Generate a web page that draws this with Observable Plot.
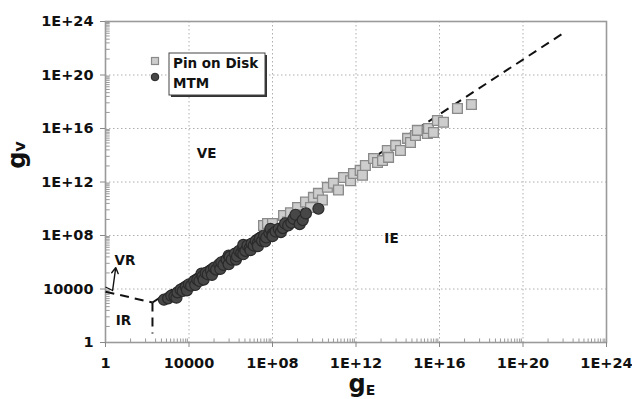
<!DOCTYPE html>
<html><head><meta charset="utf-8">
<script src="https://cdn.jsdelivr.net/npm/d3@7"></script>
<script src="https://cdn.jsdelivr.net/npm/@observablehq/plot@0.6"></script>
<style>
body{margin:0;background:#fff;}
#chart{position:relative;width:632px;height:399px;}
</style></head><body><div id="chart"></div>
<script>
// ---- data (log10 of gE and gV) ----
const seriesNames = ["Pin on Disk", "MTM"];
const pinLogGE = [7.57,7.76,8.0,8.14,8.53,8.72,8.86,9.2,9.34,9.58,9.82,9.96,10.2,10.39,10.63,10.92,11.16,11.4,11.74,11.88,12.2,12.31,12.45,12.84,13.03,13.27,13.5,13.56,13.9,14.13,14.47,14.61,14.85,14.94,15.42,15.47,15.71,15.9,16.19,16.86,17.53];
const pinLogGV = [8.75,8.9,8.9,8.45,9.5,9.0,9.7,10.1,9.55,10.5,10.1,10.85,11.15,10.65,11.6,11.9,11.4,12.34,12.1,12.64,12.87,12.5,13.24,13.76,13.46,13.6,14.36,13.84,14.74,14.36,15.26,14.96,15.48,15.86,15.63,16.0,15.7,16.6,16.46,17.5,17.8];
const mtmLogGE = [2.8,3.0,3.15,3.3,3.4,3.45,3.6,3.7,3.85,3.9,4.0,4.1,4.25,4.3,4.4,4.5,4.6,4.65,4.7,4.8,4.9,5.05,5.1,5.2,5.3,5.45,5.5,5.55,5.65,5.8,5.9,5.9,5.95,6.05,6.2,6.25,6.3,6.4,6.5,6.6,6.6,6.6,6.7,6.8,6.9,6.95,7.0,7.1,7.2,7.3,7.3,7.4,7.5,7.6,7.65,7.7,7.85,7.9,8.0,8.0,8.15,8.3,8.4,8.5,8.6,8.75,8.9,9.0,9.1,9.3,9.45,9.6,10.2];
const mtmLogGV = [3.2,3.3,3.5,3.45,3.35,3.75,3.95,3.85,4.15,3.9,4.35,4.25,4.6,4.3,4.7,4.6,5.15,4.95,4.7,5.2,5.1,5.4,5.05,5.6,5.45,5.85,5.5,6.0,5.8,6.2,5.85,6.5,6.4,6.2,6.65,6.2,6.45,6.85,6.7,7.05,6.6,7.3,6.85,7.25,7.05,6.9,7.4,7.25,7.6,7.45,7.2,7.8,7.6,8.0,7.55,7.85,8.2,8.5,8.1,7.95,8.3,8.5,8.25,8.55,8.9,8.75,8.95,9.25,9.55,8.85,9.15,9.65,10.0];
// dashed regime boundaries: segment start / end (log10)
const boundaryFromGE = [0, 2.25, 2.25];
const boundaryFromGV = [3.8, 2.99, 2.99];
const boundaryToGE = [2.25, 2.25, 21.9];
const boundaryToGV = [2.99, 0.67, 23.1];
// region labels
const regionLabels = ["VE", "IE", "VR", "IR"];
const regionLogGE = [4.84, 13.7, 0.93, 0.86];
const regionLogGV = [14.1, 7.8, 6.15, 1.65];
// axis ticks (exponents)
const majorExp = [0, 4, 8, 12, 16, 20, 24];
const minorOffsets = [1.2, 1.92, 2.4, 2.68, 2.92, 3.12, 3.28, 3.44, 3.6, 3.72, 3.84, 3.92];

const minorExp = [];
for (let k = 0; k < 24; k += 4) for (const o of minorOffsets) minorExp.push(k + o);

const pin = pinLogGE.map((x, i) => ({x: 10 ** x, y: 10 ** pinLogGV[i]}));
const mtm = mtmLogGE.map((x, i) => ({x: 10 ** x, y: 10 ** mtmLogGV[i]}));
const bounds = boundaryFromGE.map((x, i) => ({x1: 10 ** x, y1: 10 ** boundaryFromGV[i], x2: 10 ** boundaryToGE[i], y2: 10 ** boundaryToGV[i]}));
const regions = regionLabels.map((t, i) => ({t, x: 10 ** regionLogGE[i], y: 10 ** regionLogGV[i]}));
const majors = majorExp.map(e => 10 ** e);
const fmt = d => {
  const e = Math.round(Math.log10(d));
  if (e === 0) return "1";
  if (e === 4) return "10000";
  return "1E+" + String(e).padStart(2, "0");
};
const FONT = "'DejaVu Sans', Verdana, sans-serif";

const chart = Plot.plot({
  width: 632, height: 399,
  marginLeft: 105, marginRight: 26, marginTop: 21, marginBottom: 57,
  style: {fontFamily: FONT, fontSize: "14.5px", fontWeight: "bold", color: "#111", background: "#fff"},
  x: {type: "log", domain: [1, 1e24], ticks: majors, tickFormat: fmt, label: null},
  y: {type: "log", domain: [1, 1e24], ticks: majors, tickFormat: fmt, label: null},
  marks: [
    Plot.gridX(majors, {stroke: "#b0b0b0", strokeOpacity: 1, strokeDasharray: "1.5,2.5"}),
    Plot.gridY(majors, {stroke: "#b0b0b0", strokeOpacity: 1, strokeDasharray: "1.5,2.5"}),
    Plot.link(minorExp, {x1: d => 10 ** d, x2: d => 10 ** d, y1: () => 1, y2: () => 10 ** 0.3, stroke: "#999", strokeWidth: 1}),
    Plot.link(minorExp, {y1: d => 10 ** d, y2: d => 10 ** d, x1: () => 1, x2: () => 10 ** 0.2, stroke: "#999", strokeWidth: 1}),
    Plot.frame({stroke: "#9a9a9a", strokeWidth: 1.6}),
    Plot.axisX({ticks: majors, tickFormat: fmt, tickSize: 5, tickPadding: 10, stroke: "#888", fontSize: 14.5, fontWeight: "bold", fill: "#111", label: null}),
    Plot.axisY({ticks: majors, tickFormat: fmt, tickSize: 5, tickPadding: 7, stroke: "#888", fontSize: 14.5, fontWeight: "bold", fill: "#111", label: null}),
    Plot.link(bounds, {x1: "x1", y1: "y1", x2: "x2", y2: "y2", stroke: "#111", strokeWidth: 2, strokeDasharray: "9,6"}),
    Plot.dot(pin, {x: "x", y: "y", symbol: "square", r: 5.5, fill: "#cdcdcd", stroke: "#8a8a8a", strokeWidth: 1.3}),
    Plot.dot(mtm, {x: "x", y: "y", r: 5.5, fill: "#474747", stroke: "#2a2a2a", strokeWidth: 1.2}),
    Plot.arrow([{x1: 10 ** 0.34, y1: 10 ** 3.89, x2: 10 ** 0.49, y2: 10 ** 5.6}], {x1: "x1", y1: "y1", x2: "x2", y2: "y2", stroke: "#111", strokeWidth: 1.4, headLength: 7}),
    Plot.link([{x1: 1, y1: 10 ** 4.15, x2: 10 ** 0.34, y2: 10 ** 3.89}], {x1: "x1", y1: "y1", x2: "x2", y2: "y2", stroke: "#111", strokeWidth: 1.2}),
    Plot.text(regions, {x: "x", y: "y", text: "t", fontSize: 13.5, fontWeight: "bold", fill: "#111"})
  ]
});
document.getElementById("chart").appendChild(chart);

const svg = d3.select(chart);
// axis titles with subscripts
const xt = svg.append("text").attr("x", 362).attr("y", 392).attr("text-anchor", "middle")
  .attr("font-family", FONT).attr("font-weight", "bold").attr("fill", "#111");
xt.append("tspan").attr("font-size", 24).text("g");
xt.append("tspan").attr("font-size", 14).attr("dy", 3).text("E");
const yt = svg.append("text").attr("transform", "translate(25,155) rotate(-90)").attr("text-anchor", "middle")
  .attr("font-family", FONT).attr("font-weight", "bold").attr("fill", "#111");
yt.append("tspan").attr("font-size", 24).text("g");
yt.append("tspan").attr("font-size", 16).text("v");

// legend
const lg = svg.append("g").attr("font-family", FONT).attr("font-weight", "bold").attr("font-size", 13.5).attr("fill", "#111").attr("text-anchor", "start");
lg.append("rect").attr("x", 171).attr("y", 55).attr("width", 96).attr("height", 42).attr("fill", "#333");
lg.append("rect").attr("x", 169).attr("y", 53).attr("width", 96).attr("height", 42).attr("fill", "#fff").attr("stroke", "#444").attr("stroke-width", 1);
lg.append("text").attr("x", 173).attr("y", 68).attr("text-anchor", "start").text(seriesNames[0]);
lg.append("text").attr("x", 173).attr("y", 88).attr("text-anchor", "start").text(seriesNames[1]);
lg.append("rect").attr("x", 151.5).attr("y", 57.5).attr("width", 7).attr("height", 7).attr("fill", "#cdcdcd").attr("stroke", "#8a8a8a").attr("stroke-width", 1.2);
lg.append("circle").attr("cx", 155).attr("cy", 77).attr("r", 3.8).attr("fill", "#474747").attr("stroke", "#262626");
</script></body></html>
